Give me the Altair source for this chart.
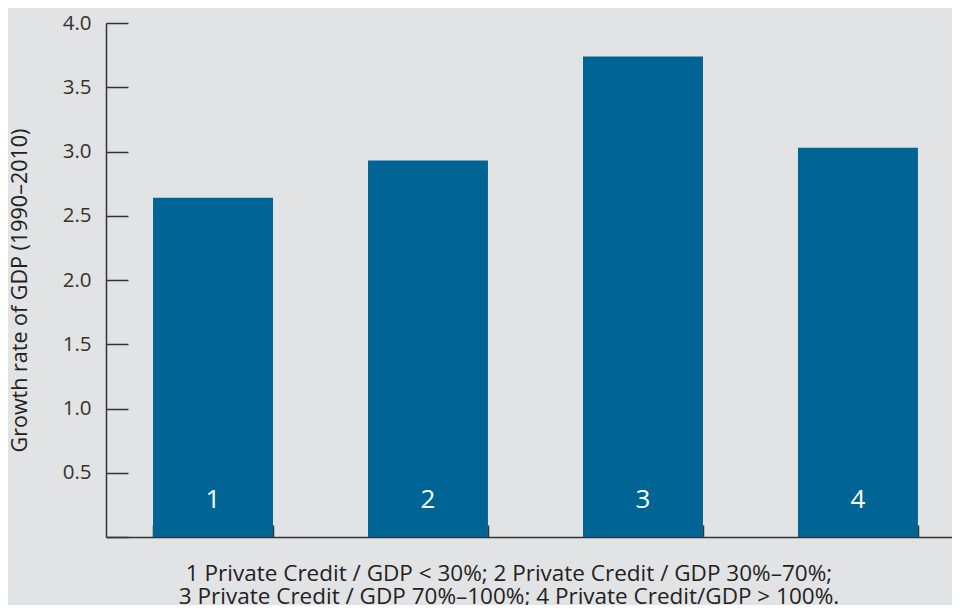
import altair as alt
import pandas as pd

categories = ["1", "2", "3", "4"]
growth = [2.64, 2.93, 3.74, 3.03]
y_label_ticks = [0.5, 1.0, 1.5, 2.0, 2.5, 3.0, 3.5, 4.0]
y_all_ticks = [0.0, 0.5, 1.0, 1.5, 2.0, 2.5, 3.0, 3.5, 4.0]
y_title = "Growth rate of GDP (1990–2010)"
caption = [
    "1 Private Credit / GDP < 30%; 2 Private Credit / GDP 30%–70%;",
    "3 Private Credit / GDP 70%–100%; 4 Private Credit/GDP > 100%.",
]

df = pd.DataFrame({"cat": categories, "value": growth})

W, H = 846, 514
FONT = "Open Sans"
AXC = "#333333"

xscale = alt.Scale(paddingInner=0.442, paddingOuter=0.1886, align=0.58)
yscale = alt.Scale(domain=[0, 4], nice=False)

base = alt.Chart(df)

bars = base.mark_bar(color="#006595").encode(
    x=alt.X("cat:N", sort=categories, scale=xscale,
            axis=alt.Axis(orient="bottom", title=None, labels=False, ticks=False,
                          domain=True, domainColor=AXC, domainWidth=1.5)),
    y=alt.Y("value:Q", scale=yscale,
            axis=alt.Axis(orient="left", values=y_label_ticks, ticks=False, tickSize=0,
                          labelPadding=15, grid=False, format=".1f",
                          labelFont=FONT, labelFontSize=20.5, labelColor="#333333",
                          domain=True, domainColor=AXC, domainWidth=1.5,
                          title=y_title, titleFont=FONT, titleFontSize=21.5,
                          titleFontWeight="normal", titleColor="#222222",
                          titleX=-86, titleY=267, titleAngle=-90,
                          titleAlign="center", titleBaseline="middle")),
)

labels = base.mark_text(color="white", fontSize=26, font=FONT, dy=-37,
                        baseline="middle").encode(
    x=alt.X("cat:N", sort=categories, scale=xscale,
            axis=alt.Axis(orient="top", offset=-H, tickBand="extent", ticks=True,
                          tickSize=12, tickColor=AXC, tickWidth=1.5, labels=False,
                          domain=False, title=None)),
    y=alt.Y(datum=0, type="quantitative", scale=yscale,
            axis=alt.Axis(orient="right", offset=-W, values=y_all_ticks, ticks=True,
                          tickSize=22, tickColor=AXC, tickWidth=1.5, labels=False,
                          domain=False, grid=False, title=None)),
    text="cat:N",
)

chart = alt.layer(bars, labels).resolve_axis(x="independent", y="independent").properties(
    width=W, height=H,
    autosize=alt.AutoSizeParams(type="none"),
    padding={"left": 98, "top": 15, "right": 0, "bottom": 68},
    background="#e2e3e5",
    title=alt.TitleParams(text=caption, orient="bottom", anchor="middle", dx=-20,
                          offset=25, baseline="top", font=FONT, fontSize=22.5,
                          fontWeight="normal", color="#222222", lineHeight=23),
).configure_view(stroke=None)

chart.save("out.html", embed_options={"renderer": "svg", "actions": False})
